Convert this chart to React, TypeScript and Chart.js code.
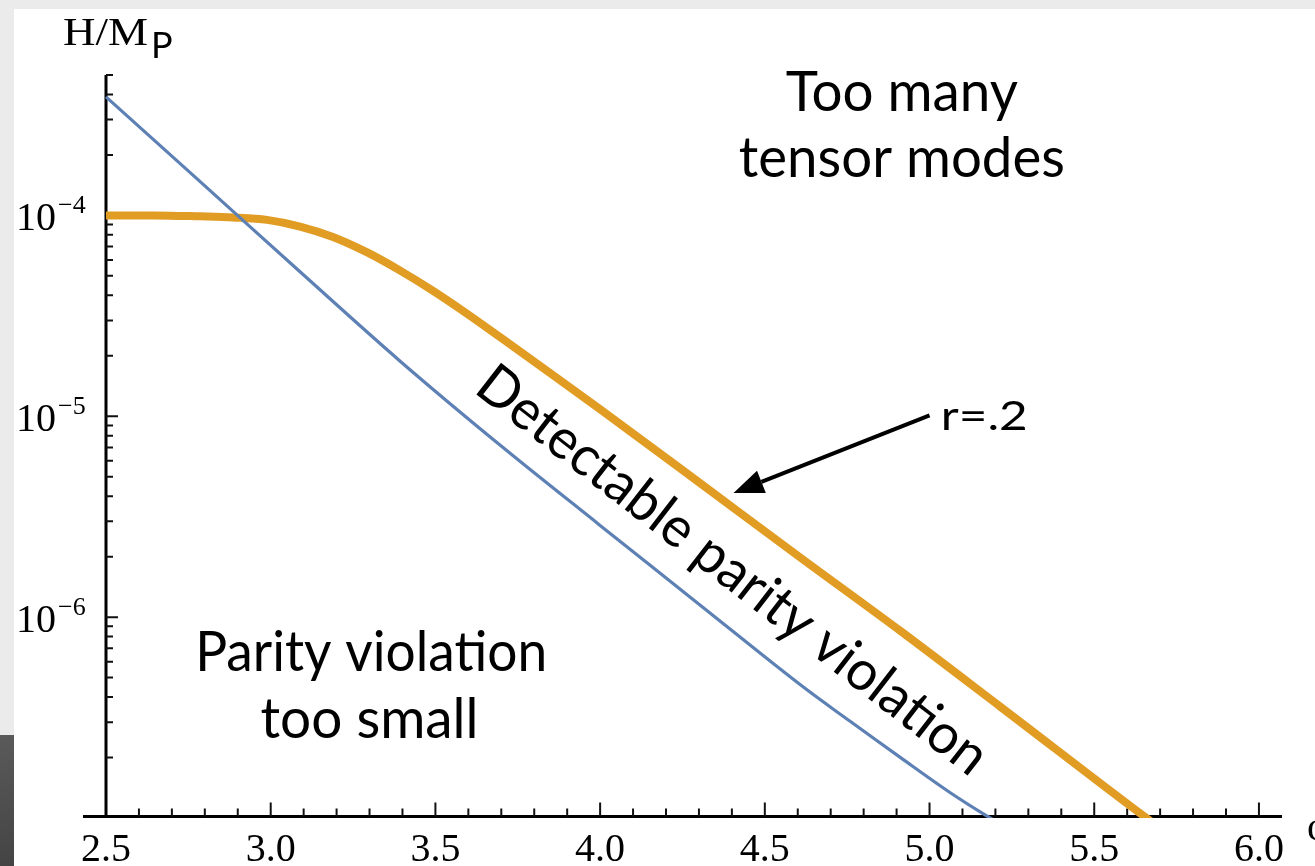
import React, { useEffect, useRef } from 'react';
import { Chart, registerables } from 'chart.js';

Chart.register(...registerables);

// ---- axis ranges ----
const X_MIN = 2.5;
const X_MAX = 6.07;
const Y_MIN = 1e-7;
const Y_MAX = 5e-4;

// ---- series ----
const blueX = [2.5, 2.785, 3.089, 3.393, 3.696, 3.999, 4.303, 4.606, 4.759, 4.91, 5.062, 5.171, 5.214];
const blueY = [3.89e-4, 1.476e-4, 5.24e-5, 1.88e-5, 7.19e-6, 2.87e-6, 1.15e-6, 4.63e-7, 3.03e-7, 2.01e-7, 1.34e-7, 1.03e-7, 9.4e-8];

const orangeX = [2.5, 2.65, 2.785, 2.886, 2.989, 3.089, 3.189, 3.293, 3.393, 3.493, 3.596, 3.696, 3.848, 3.999, 4.303, 4.606, 4.913, 5.217, 5.651, 5.7];
const orangeY = [1.0e-4, 1.0e-4, 9.89e-5, 9.77e-5, 9.5e-5, 8.8e-5, 7.81e-5, 6.54e-5, 5.31e-5, 4.21e-5, 3.24e-5, 2.48e-5, 1.644e-5, 1.087e-5, 4.65e-6, 1.99e-6, 8.5e-7, 3.56e-7, 1.02e-7, 8.9e-8];

// ---- ticks ----
const xTickValues = [2.5, 3.0, 3.5, 4.0, 4.5, 5.0, 5.5, 6.0];
const xTickLabels = ['2.5', '3.0', '3.5', '4.0', '4.5', '5.0', '5.5', '6.0'];
const yTickExponents = [-4, -5, -6];
const yTickSup = ['\u22124', '\u22125', '\u22126'];

// ---- annotations (data coordinates) ----
const regionTexts = [
  { text: 'Too many', x: 4.916, y: 3.31e-4, width: 232 },
  { text: 'tensor modes', x: 4.916, y: 1.55e-4, width: 326 },
  { text: 'Parity violation', x: 3.305, y: 5.38e-7, width: 352 },
  { text: 'too small', x: 3.3, y: 2.5e-7, width: 218 },
];
const bandText = { text: 'Detectable parity violation', x: 4.402, y: 1.71e-6, angleDeg: 37.8, width: 630 };
const arrowFrom = { x: 5.0, y: 1.01e-5 };
const arrowTo = { x: 4.405, y: 4.15e-6 };
const rLabel = { text: 'r=.2', x: 5.034, y: 8.5e-6, width: 87 };

const SERIF = '"Liberation Serif", "DejaVu Serif", serif';
const SANS = 'Lato, "Open Sans", sans-serif';

function fitText(ctx: CanvasRenderingContext2D, text: string, x: number, y: number, font: string, width: number, align: CanvasTextAlign) {
  ctx.save();
  ctx.font = font;
  const w = ctx.measureText(text).width;
  const sx = width / w;
  ctx.translate(x, y);
  ctx.scale(sx, 1);
  ctx.textAlign = align;
  ctx.fillText(text, 0, 0);
  ctx.restore();
}

const decorPlugin = {
  id: 'decor',
  beforeDraw(chart: any) {
    const ctx: CanvasRenderingContext2D = chart.ctx;
    const W = chart.width, H = chart.height;
    ctx.save();
    ctx.fillStyle = '#ebebeb';
    ctx.fillRect(0, 0, W, H);
    const g = ctx.createLinearGradient(0, 735, 0, H);
    g.addColorStop(0, '#5a5a5a');
    g.addColorStop(1, '#444444');
    ctx.fillStyle = g;
    ctx.fillRect(0, 735, 14, H - 735);
    ctx.fillStyle = '#ffffff';
    ctx.fillRect(14, 9, W - 14, H - 9);
    ctx.restore();
  },
  beforeDatasetsDraw(chart: any) {
    const ctx: CanvasRenderingContext2D = chart.ctx;
    const xs = chart.scales.x, ys = chart.scales.y;
    const area = chart.chartArea;
    const x0 = xs.getPixelForValue(X_MIN);
    const yb = ys.getPixelForValue(Y_MIN) - 1.5;
    ctx.save();
    ctx.strokeStyle = '#000';
    ctx.lineWidth = 3;
    ctx.beginPath();
    ctx.moveTo(x0 - 23, yb);
    ctx.lineTo(area.right, yb);
    ctx.moveTo(x0, yb);
    ctx.lineTo(x0, area.top);
    ctx.stroke();

    // x ticks
    ctx.lineWidth = 2;
    ctx.strokeStyle = '#111';
    ctx.beginPath();
    for (let i = 26; i <= 60; i++) {
      const v = i / 10;
      const px = xs.getPixelForValue(v);
      const major = i % 5 === 0;
      ctx.moveTo(px, yb);
      ctx.lineTo(px, yb - (major ? 14 : 8));
    }
    // y ticks
    for (let e = -7; e <= -4; e++) {
      for (let m = 1; m <= 9; m++) {
        const v = m * Math.pow(10, e);
        if (v <= Y_MIN * 1.001 || v > Y_MAX * 1.001) continue;
        const py = ys.getPixelForValue(v);
        ctx.moveTo(x0, py);
        ctx.lineTo(x0 + (m === 1 ? 12 : 7), py);
      }
    }
    ctx.stroke();

    // x labels
    ctx.fillStyle = '#000';
    ctx.font = `40px ${SERIF}`;
    ctx.textAlign = 'center';
    ctx.textBaseline = 'alphabetic';
    xTickValues.forEach((v, i) => {
      ctx.fillText(xTickLabels[i], xs.getPixelForValue(v), yb + 44);
    });
    // y labels
    yTickExponents.forEach((e, i) => {
      const py = ys.getPixelForValue(Math.pow(10, e));
      ctx.font = `40px ${SERIF}`;
      ctx.textAlign = 'right';
      ctx.fillText('10', 56, py + 15);
      ctx.font = `26px ${SERIF}`;
      ctx.textAlign = 'left';
      ctx.fillText(yTickSup[i], 58, py - 2);
    });
    // axis titles
    fitText(ctx, 'H/M', 63, 45, `41px ${SERIF}`, 85, 'left');
    ctx.font = `36px ${SANS}`;
    ctx.textAlign = 'left';
    ctx.fillText('P', 151, 58);
    ctx.font = `40px ${SERIF}`;
    ctx.fillText('\u03c6', 1307, 840);
    ctx.restore();
  },
  afterDatasetsDraw(chart: any) {
    const ctx: CanvasRenderingContext2D = chart.ctx;
    const xs = chart.scales.x, ys = chart.scales.y;
    ctx.save();
    ctx.fillStyle = '#000';
    ctx.textBaseline = 'alphabetic';
    regionTexts.forEach((t) => {
      fitText(ctx, t.text, xs.getPixelForValue(t.x), ys.getPixelForValue(t.y), `56px ${SANS}`, t.width, 'center');
    });
    fitText(ctx, rLabel.text, xs.getPixelForValue(rLabel.x), ys.getPixelForValue(rLabel.y), `40px ${SANS}`, rLabel.width, 'left');

    // rotated band label
    ctx.save();
    ctx.font = `56px ${SANS}`;
    const w = ctx.measureText(bandText.text).width;
    ctx.translate(xs.getPixelForValue(bandText.x), ys.getPixelForValue(bandText.y));
    ctx.rotate((bandText.angleDeg * Math.PI) / 180);
    ctx.scale(bandText.width / w, 1);
    ctx.textAlign = 'center';
    ctx.textBaseline = 'middle';
    ctx.fillText(bandText.text, 0, 0);
    ctx.restore();

    // arrow
    const ax = xs.getPixelForValue(arrowFrom.x), ay = ys.getPixelForValue(arrowFrom.y);
    const bx = xs.getPixelForValue(arrowTo.x), by = ys.getPixelForValue(arrowTo.y);
    const ang = Math.atan2(by - ay, bx - ax);
    const hl = 30, hw = 12;
    const baseX = bx - hl * Math.cos(ang), baseY = by - hl * Math.sin(ang);
    ctx.strokeStyle = '#000';
    ctx.lineWidth = 4;
    ctx.beginPath();
    ctx.moveTo(ax, ay);
    ctx.lineTo(baseX, baseY);
    ctx.stroke();
    ctx.beginPath();
    ctx.moveTo(bx, by);
    ctx.lineTo(baseX + hw * Math.sin(ang), baseY - hw * Math.cos(ang));
    ctx.lineTo(baseX - hw * Math.sin(ang), baseY + hw * Math.cos(ang));
    ctx.closePath();
    ctx.fill();
    ctx.restore();
  },
};

export default function App() {
  const ref = useRef<HTMLCanvasElement | null>(null);
  useEffect(() => {
    if (!ref.current) return;
    const chart = new Chart(ref.current, {
      type: 'line',
      data: {
        datasets: [
          {
            label: 'blue',
            data: blueX.map((x, i) => ({ x, y: blueY[i] })),
            borderColor: '#5E81B5',
            borderWidth: 3.2,
            pointRadius: 0,
            tension: 0.35,
            clip: { left: 5, top: 5, right: 0, bottom: 0 } as any,
          },
          {
            label: 'orange',
            data: orangeX.map((x, i) => ({ x, y: orangeY[i] })),
            borderColor: '#E19C24',
            borderWidth: 8,
            pointRadius: 0,
            cubicInterpolationMode: 'monotone',
            clip: { left: 5, top: 5, right: 0, bottom: 0 } as any,
          },
        ],
      },
      options: {
        responsive: false,
        animation: false,
        events: [],
        layout: { padding: { left: 106, right: 33, top: 75, bottom: 48 } },
        plugins: { legend: { display: false }, tooltip: { enabled: false } },
        scales: {
          x: { type: 'linear', min: X_MIN, max: X_MAX, display: false },
          y: { type: 'logarithmic', min: Y_MIN, max: Y_MAX, display: false },
        },
      },
      plugins: [decorPlugin],
    });
    return () => chart.destroy();
  }, []);
  return (
    <div style={{ position: 'fixed', left: 0, top: 0, width: 1315, height: 866, overflow: 'hidden' }}>
      <canvas ref={ref} width={1315} height={866} style={{ display: 'block' }} />
    </div>
  );
}
